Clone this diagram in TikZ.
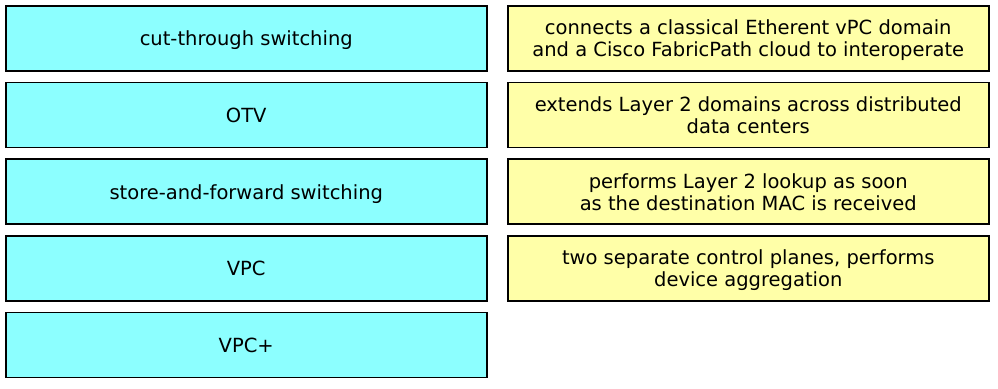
\documentclass[tikz,border=0pt]{standalone}
\usepackage{fontspec}
\setmainfont{DejaVu Sans}
\usetikzlibrary{positioning}
\definecolor{termcyan}{HTML}{8CFFFF}
\definecolor{defyellow}{HTML}{FFFFA8}

\begin{document}
\begin{tikzpicture}[
x=1pt,y=1pt,
node distance=10.2pt,
term/.style={
    rectangle,
    minimum width=481pt,
    minimum height=65pt,
    draw=black,
    line width=1.5pt,
    fill=termcyan,
    font=\fontsize{19.5}{22}\selectfont,
    text depth=0pt,
    align=center
},
defn/.style={
    term,
    fill=defyellow
}
]
\useasboundingbox (0,0) rectangle (998,-388);

% Terms
\node[term,anchor=north west] (cut) at (5,-5) {cut-through switching};
\node[term,below=of cut] (otv) {OTV};
\node[term,below=of otv] (store) {store-and-forward switching};
\node[term,below=of store] (vpc) {VPC};
\node[term,below=of vpc] (vpcplus) {VPC+};

% Definitions
\node[defn,anchor=north west] (interop) at (507,-5)
{connects a classical Etherent vPC domain\\and a Cisco FabricPath cloud to interoperate};
\node[defn,below=of interop] (extend)
{extends Layer 2 domains across distributed\\data centers};
\node[defn,below=of extend] (lookup)
{performs Layer 2 lookup as soon\\as the destination MAC is received};
\node[defn,below=of lookup] (planes)
{two separate control planes, performs\\device aggregation};

\end{tikzpicture}
\end{document}
